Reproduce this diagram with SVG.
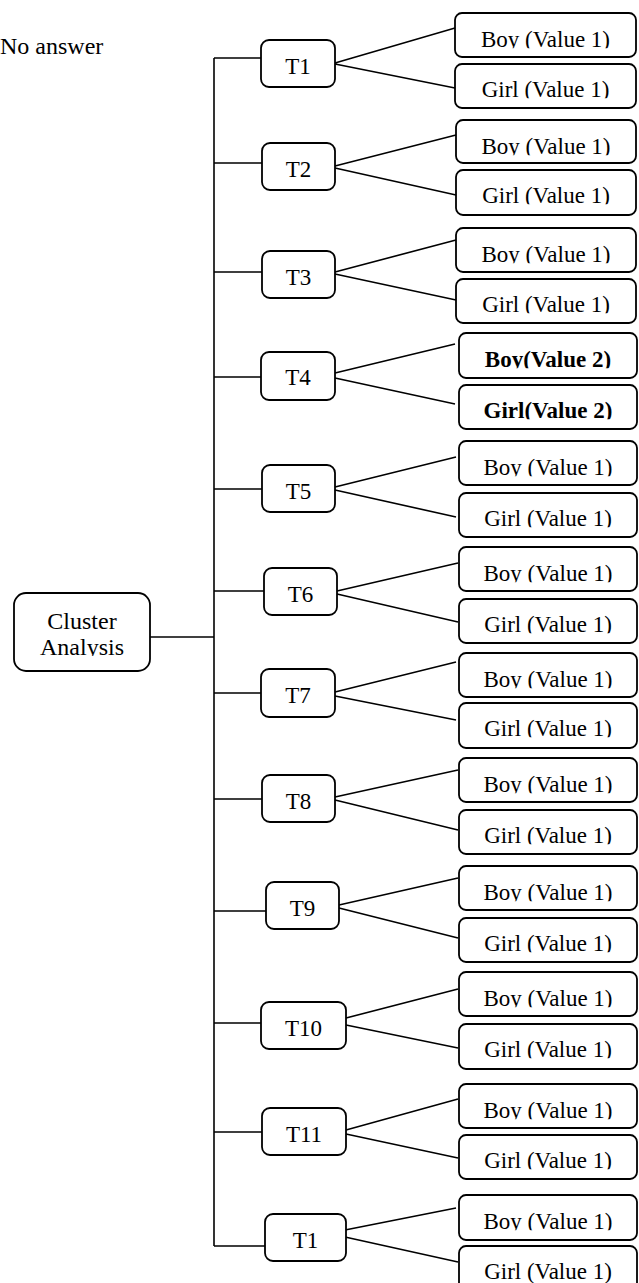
<svg xmlns="http://www.w3.org/2000/svg" width="639" height="1283" viewBox="0 0 639 1283">
<style>
.box{fill:#fff;stroke:#000;stroke-width:1.8}
.ln{stroke:#000;stroke-width:1.6;fill:none}
.t{font-family:"Liberation Serif","Times New Roman",serif;font-size:23px;fill:#000;text-anchor:middle}
.c{clip-path:url(#cut)}
.b{font-weight:bold}
.big{font-size:24px}
</style>
<defs>
<clipPath id="cut" clipPathUnits="objectBoundingBox"><rect x="-0.1" y="0" width="1.2" height="0.845"/></clipPath>
</defs>
<text class="t big" x="0" y="54" style="text-anchor:start">No answer</text>
<g id="connectors">
<path class="ln" d="M214 58V1246"/>
<path class="ln" d="M150 637H214"/>
<path class="ln" d="M214 58H261M335 63L455 28M335 64L455 88"/>
<path class="ln" d="M214 163H262M335 166L456 135M335 168L456 195"/>
<path class="ln" d="M214 272H262M335 272L456 240M335 274L456 300"/>
<path class="ln" d="M214 377H261M335 373L455 344M335 378L455 404"/>
<path class="ln" d="M214 489H262M335 487L456 457M335 490L456 517"/>
<path class="ln" d="M214 591H264M337 591L458 563M337 594L458 622"/>
<path class="ln" d="M214 693H261M335 692L456 662M335 696L456 720"/>
<path class="ln" d="M214 799H262M335 797L458 770M335 800L458 830"/>
<path class="ln" d="M214 911H266M339 905L458 878M339 908L458 938"/>
<path class="ln" d="M214 1023H261M346 1018L458 989M346 1025L458 1048"/>
<path class="ln" d="M214 1132H262M346 1130L458 1099M346 1134L458 1158"/>
<path class="ln" d="M214 1246H265M345 1230L456 1208M345 1237L458 1262"/>
</g>
<g id="cluster"><rect class="box" x="14" y="593" width="136" height="78" rx="12"/><text class="t big" x="82" y="629">Cluster</text><text class="t big c" x="82" y="655">Analysis</text></g>
<g id="t1"><rect class="box" x="261" y="40" width="74" height="47" rx="8"/><text class="t" x="298" y="74">T1</text></g>
<g id="t2"><rect class="box" x="262" y="143" width="73" height="47" rx="8"/><text class="t" x="298.5" y="177">T2</text></g>
<g id="t3"><rect class="box" x="262" y="251" width="73" height="47" rx="8"/><text class="t" x="298.5" y="285">T3</text></g>
<g id="t4"><rect class="box" x="261" y="352" width="74" height="48" rx="8"/><text class="t" x="298" y="385">T4</text></g>
<g id="t5"><rect class="box" x="262" y="465" width="73" height="47" rx="8"/><text class="t" x="298.5" y="499">T5</text></g>
<g id="t6"><rect class="box" x="264" y="568" width="73" height="47" rx="8"/><text class="t" x="300.5" y="602">T6</text></g>
<g id="t7"><rect class="box" x="261" y="669" width="74" height="48" rx="8"/><text class="t" x="298" y="703">T7</text></g>
<g id="t8"><rect class="box" x="262" y="775" width="73" height="47" rx="8"/><text class="t" x="298.5" y="809">T8</text></g>
<g id="t9"><rect class="box" x="266" y="882" width="73" height="47" rx="8"/><text class="t" x="302.5" y="916">T9</text></g>
<g id="t10"><rect class="box" x="261" y="1002" width="85" height="47" rx="8"/><text class="t" x="303.5" y="1036">T10</text></g>
<g id="t11"><rect class="box" x="262" y="1108" width="84" height="47" rx="8"/><text class="t" x="304" y="1142">T11</text></g>
<g id="t12"><rect class="box" x="265" y="1214" width="81" height="47" rx="8"/><text class="t" x="305.5" y="1248">T1</text></g>
<g id="boy1"><rect class="box" x="455" y="13" width="181" height="44" rx="7"/><text class="t c" x="545.5" y="47">Boy (Value 1)</text></g>
<g id="girl1"><rect class="box" x="455" y="64" width="181" height="44" rx="7"/><text class="t c" x="545.5" y="97">Girl (Value 1)</text></g>
<g id="boy2"><rect class="box" x="456" y="120" width="180" height="43" rx="7"/><text class="t c" x="546" y="154">Boy (Value 1)</text></g>
<g id="girl2"><rect class="box" x="456" y="170" width="180" height="45" rx="7"/><text class="t c" x="546" y="203">Girl (Value 1)</text></g>
<g id="boy3"><rect class="box" x="456" y="228" width="180" height="44" rx="7"/><text class="t c" x="546" y="262">Boy (Value 1)</text></g>
<g id="girl3"><rect class="box" x="456" y="279" width="180" height="44" rx="7"/><text class="t c" x="546" y="312">Girl (Value 1)</text></g>
<g id="boy4"><rect class="box" x="459" y="333" width="178" height="45" rx="7"/><text class="t c b" x="548" y="367">Boy(Value 2)</text></g>
<g id="girl4"><rect class="box" x="459" y="385" width="178" height="44" rx="7"/><text class="t c b" x="548" y="418">Girl(Value 2)</text></g>
<g id="boy5"><rect class="box" x="459" y="441" width="178" height="44" rx="7"/><text class="t c" x="548" y="475">Boy (Value 1)</text></g>
<g id="girl5"><rect class="box" x="459" y="493" width="178" height="44" rx="7"/><text class="t c" x="548" y="526">Girl (Value 1)</text></g>
<g id="boy6"><rect class="box" x="459" y="547" width="178" height="44" rx="7"/><text class="t c" x="548" y="581">Boy (Value 1)</text></g>
<g id="girl6"><rect class="box" x="459" y="599" width="178" height="44" rx="7"/><text class="t c" x="548" y="632">Girl (Value 1)</text></g>
<g id="boy7"><rect class="box" x="459" y="653" width="178" height="44" rx="7"/><text class="t c" x="548" y="687">Boy (Value 1)</text></g>
<g id="girl7"><rect class="box" x="459" y="703" width="178" height="45" rx="7"/><text class="t c" x="548" y="736">Girl (Value 1)</text></g>
<g id="boy8"><rect class="box" x="459" y="758" width="178" height="44" rx="7"/><text class="t c" x="548" y="792">Boy (Value 1)</text></g>
<g id="girl8"><rect class="box" x="459" y="810" width="178" height="44" rx="7"/><text class="t c" x="548" y="843">Girl (Value 1)</text></g>
<g id="boy9"><rect class="box" x="459" y="866" width="178" height="44" rx="7"/><text class="t c" x="548" y="900">Boy (Value 1)</text></g>
<g id="girl9"><rect class="box" x="459" y="918" width="178" height="44" rx="7"/><text class="t c" x="548" y="951">Girl (Value 1)</text></g>
<g id="boy10"><rect class="box" x="459" y="972" width="178" height="44" rx="7"/><text class="t c" x="548" y="1006">Boy (Value 1)</text></g>
<g id="girl10"><rect class="box" x="459" y="1024" width="178" height="45" rx="7"/><text class="t c" x="548" y="1057">Girl (Value 1)</text></g>
<g id="boy11"><rect class="box" x="459" y="1084" width="178" height="44" rx="7"/><text class="t c" x="548" y="1118">Boy (Value 1)</text></g>
<g id="girl11"><rect class="box" x="459" y="1135" width="178" height="44" rx="7"/><text class="t c" x="548" y="1168">Girl (Value 1)</text></g>
<g id="boy12"><rect class="box" x="459" y="1195" width="178" height="45" rx="7"/><text class="t c" x="548" y="1229">Boy (Value 1)</text></g>
<g id="girl12"><rect class="box" x="459" y="1246" width="178" height="45" rx="7"/><text class="t" x="548" y="1279">Girl (Value 1)</text></g>
</svg>
